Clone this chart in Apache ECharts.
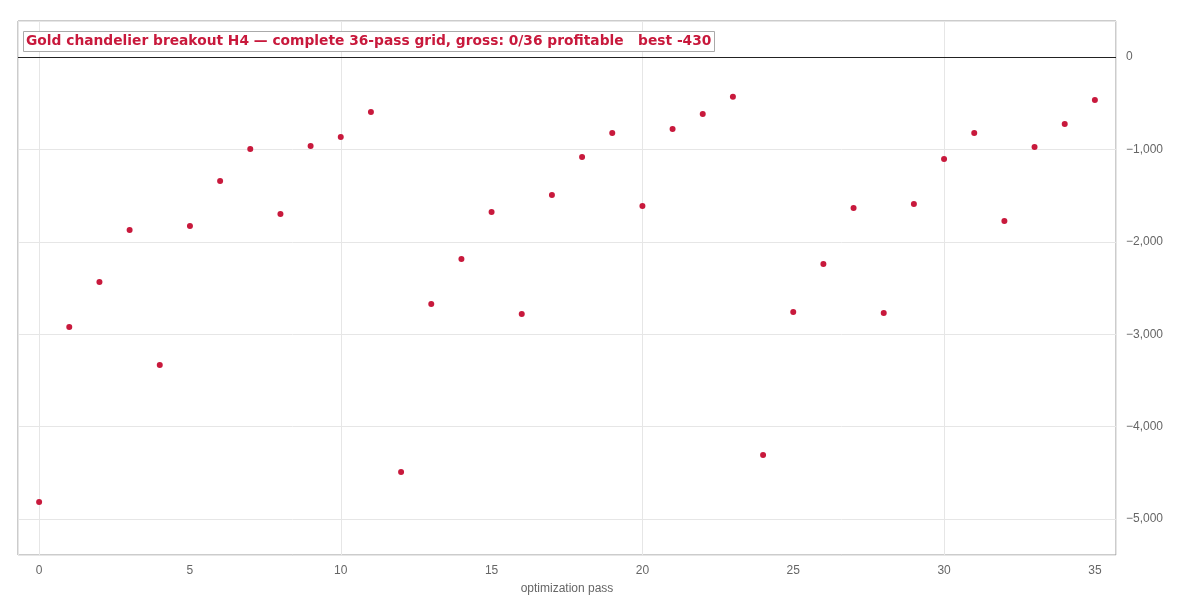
<!DOCTYPE html>
<html><head><meta charset="utf-8">
<script src="https://cdn.jsdelivr.net/npm/echarts@6/dist/echarts.min.js"></script>
<style>body{margin:0}#c{width:1200px;height:600px}</style></head>
<body><div id="c"></div>
<script>
const passes=[...Array(36).keys()];
const values=[-4816,-2922,-2435,-1872,-3333,-1829,-1342,-996,-1699,-963,-866,-595,-4491,-2673,-2186,-1677,-2781,-1494,-1082,-823,-1613,-779,-617,-430,-4307,-2760,-2240,-1634,-2771,-1591,-1104,-823,-1775,-974,-725,-465];
const xTicks=[0,5,10,15,20,25,30,35];
const yTicks=[-5000,-4000,-3000,-2000,-1000,0];
const titleText='Gold chandelier breakout H4 — complete 36-pass grid, gross: 0/36 profitable   best -430';
const chart=echarts.init(document.getElementById('c'));
const grey='#666';
chart.setOption({
 animation:false,
 title:{text:titleText,left:23,top:31,padding:[3,3],borderColor:'#aaa',borderWidth:1,backgroundColor:'#fff',
  textStyle:{color:'#c8193c',fontSize:13.8,fontWeight:'bold',fontFamily:'DejaVu Sans',lineHeight:15}},
 grid:{left:18,right:84,top:21,bottom:45,show:true,borderColor:'#999',borderWidth:1},
 xAxis:{type:'value',min:-0.7,max:35.7,name:'optimization pass',nameLocation:'middle',nameGap:28,
  nameTextStyle:{color:grey,fontSize:12},
  axisLine:{show:false},
  axisTick:{show:false},
  axisLabel:{customValues:xTicks,color:grey,fontSize:12,margin:10},
  splitLine:{show:true,lineStyle:{color:'#e6e6e6'}}},
 yAxis:{type:'value',position:'right',min:-5390,max:390,
  axisLine:{show:false},
  axisTick:{show:false},
  axisLabel:{customValues:yTicks,color:grey,fontSize:12,margin:10,formatter:v=>v===0?'0':(v<0?'−':'')+Math.abs(v).toLocaleString('en-US')},
  splitLine:{show:true,lineStyle:{color:'#e6e6e6'}}},
 series:[{type:'scatter',data:passes.map((p,i)=>[p,values[i]]),symbolSize:6,itemStyle:{color:'#c8193c',opacity:1},
  markLine:{silent:true,symbol:'none',label:{show:false},lineStyle:{color:'#222',type:'solid',width:1.2},data:[{yAxis:0}]}}]
});
</script></body></html>
